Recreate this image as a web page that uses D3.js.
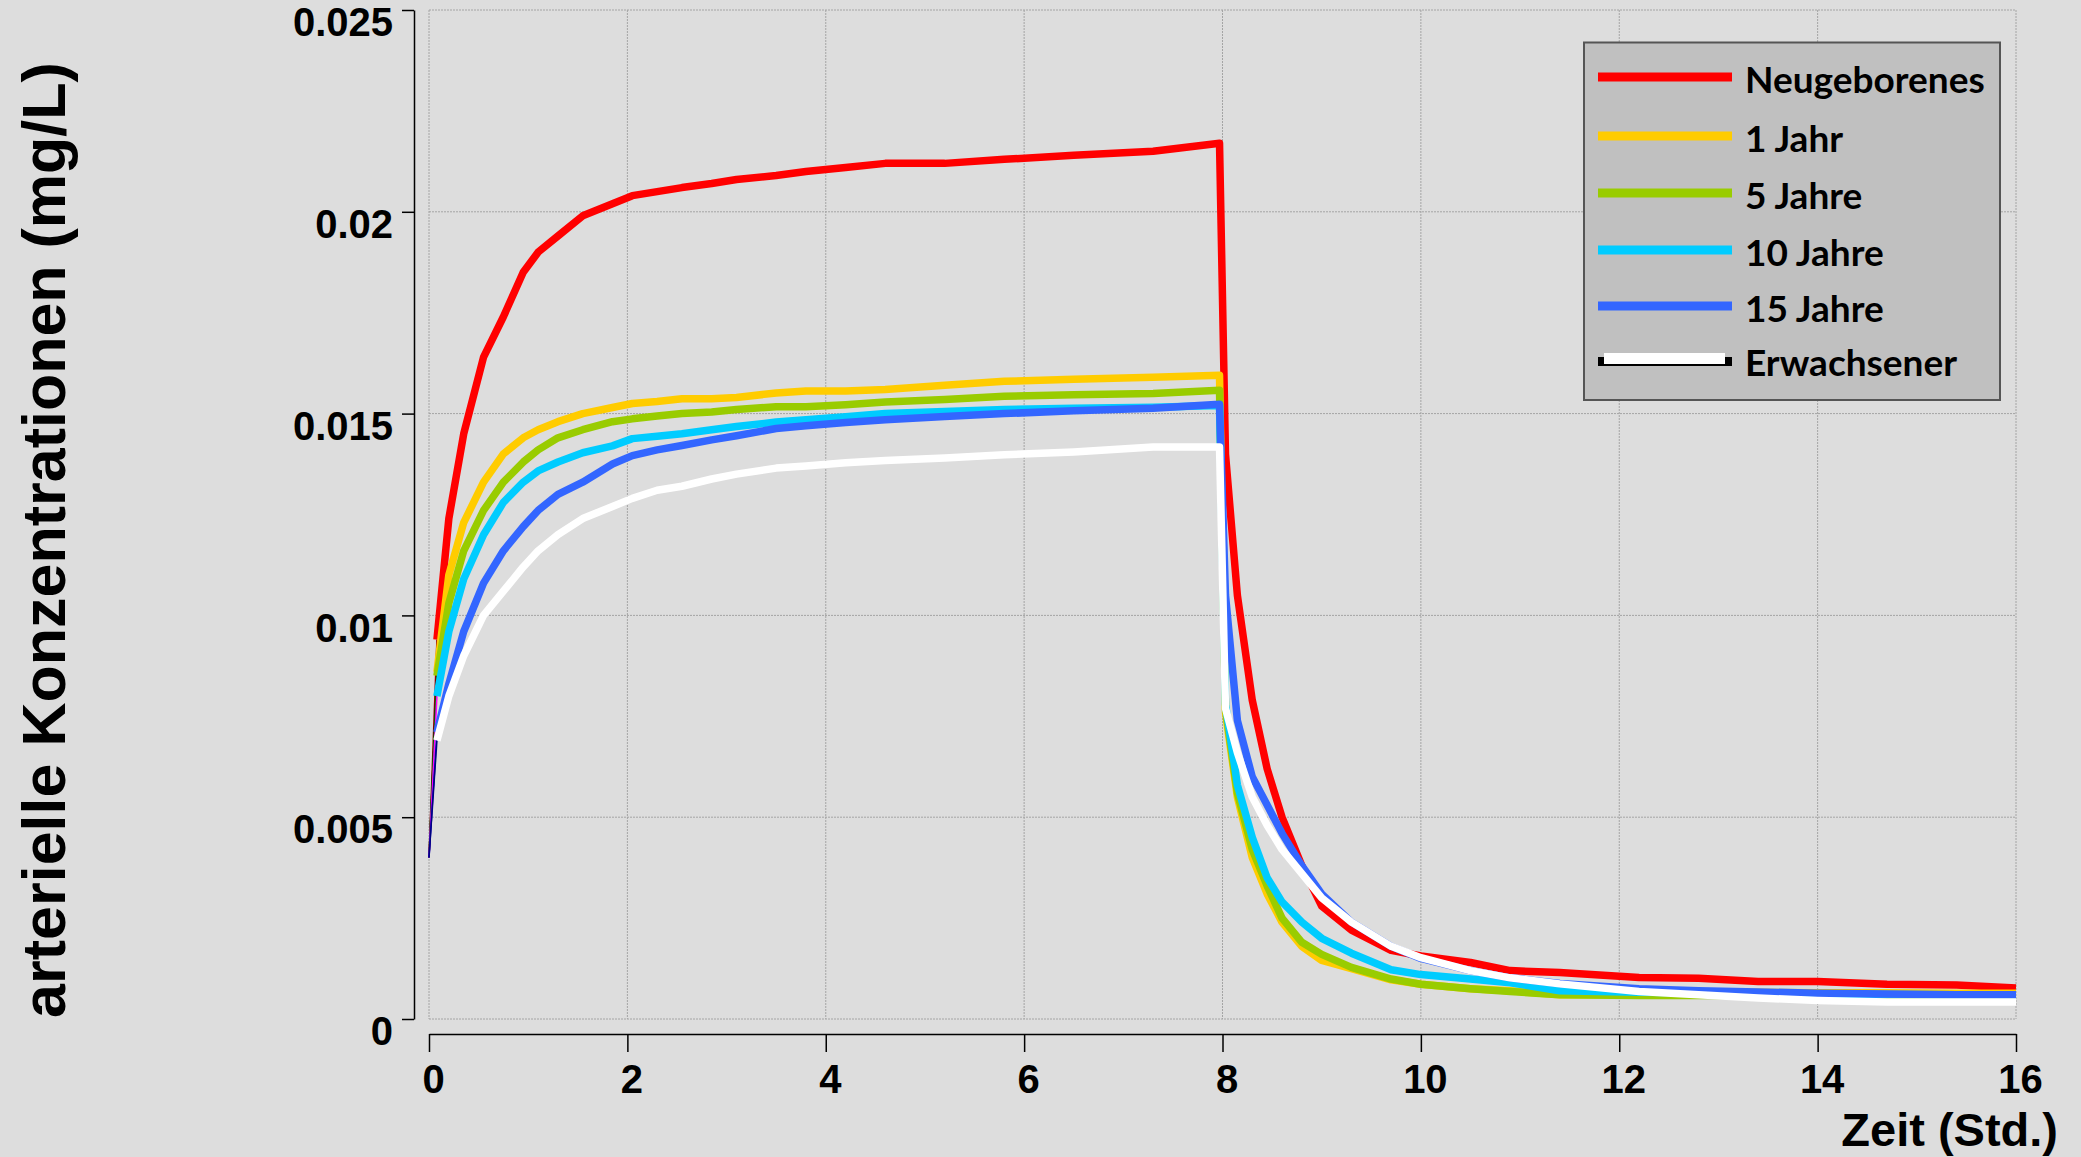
<!DOCTYPE html>
<html>
<head>
<meta charset="utf-8">
<title>arterielle Konzentrationen</title>
<style>
body { margin: 0; background: #dddddd; }
svg { display: block; }
.axis text { font-family: "Liberation Sans", Arial, sans-serif; font-weight: bold; font-size: 40px; fill: #000; }
.axis path, .axis line { stroke: #000; stroke-width: 1.5; }
.grid line { stroke: #a4a4a4; stroke-width: 1; stroke-dasharray: 2,1; }
.legend text { font-family: "Comic Sans MS", "Lato", sans-serif; font-weight: bold; font-size: 37px; fill: #000; }
</style>
</head>
<body>
<svg width="2081" height="1157"></svg>
<script src="https://d3js.org/d3.v7.min.js"></script>
<script>
// Zeitpunkte (Std.)
var times = [0, 0.08, 0.2, 0.35, 0.55, 0.75, 0.95, 1.1, 1.3, 1.55,
  1.85, 2.05, 2.3, 2.55, 2.85, 3.1, 3.5, 3.8, 4.2, 4.6,
  5.2, 5.8, 6.5, 7.3, 7.97, 8.03, 8.15, 8.3, 8.45, 8.6,
  8.8, 9.0, 9.3, 9.7, 10.0, 10.5, 10.9, 11.4, 12.2, 12.8,
  13.4, 14.0, 14.7, 15.4, 16];

var neugeborenes = [0.004, 0.0094, 0.0124, 0.0145, 0.0164, 0.0174, 0.0185, 0.0190, 0.0194, 0.0199,
  0.0202, 0.0204, 0.0205, 0.0206, 0.0207, 0.0208, 0.0209, 0.0210, 0.0211, 0.0212,
  0.0212, 0.0213, 0.0214, 0.0215, 0.0217, 0.0140, 0.0105, 0.0079, 0.0062, 0.0050,
  0.0038, 0.0028, 0.0022, 0.0017, 0.00156, 0.0014, 0.0012, 0.00115, 0.00103, 0.00101,
  0.00093, 0.00093, 0.00086, 0.00084, 0.00077];
var jahr1 = [0.004, 0.0086, 0.0110, 0.0123, 0.0133, 0.0140, 0.0144, 0.0146, 0.0148, 0.0150,
  0.01515, 0.01525, 0.0153, 0.01537, 0.01537, 0.0154, 0.01551, 0.01556, 0.01556, 0.0156,
  0.0157, 0.0158, 0.01585, 0.0159, 0.01595, 0.0076, 0.0055, 0.0040, 0.0031, 0.0024,
  0.0018, 0.00145, 0.00125, 0.00097, 0.00086, 0.00075, 0.0007, 0.0006, 0.0006, 0.00066,
  0.00066, 0.00065, 0.00065, 0.00064, 0.00064];
var jahre5 = [0.004, 0.0085, 0.0103, 0.0116, 0.0126, 0.0133, 0.0138, 0.0141, 0.0144, 0.0146,
  0.0148, 0.01487, 0.01494, 0.0150, 0.01504, 0.0151, 0.01517, 0.01517, 0.01522, 0.01529,
  0.01535, 0.01543, 0.01547, 0.0155, 0.01558, 0.0077, 0.0056, 0.0042, 0.0033, 0.0025,
  0.0019, 0.0016, 0.00128, 0.00099, 0.00086, 0.00075, 0.00068, 0.0006, 0.00058, 0.00058,
  0.00058, 0.00058, 0.00058, 0.00058, 0.00058];
var jahre10 = [0.004, 0.0080, 0.0096, 0.0109, 0.0120, 0.0128, 0.0133, 0.01358, 0.0138, 0.01403,
  0.0142, 0.01438, 0.01444, 0.0145, 0.0146, 0.01468, 0.01479, 0.01485, 0.01492, 0.0150,
  0.01505, 0.0151, 0.01513, 0.01516, 0.0152, 0.0078, 0.0058, 0.0045, 0.0035, 0.0029,
  0.0024, 0.0020, 0.00163, 0.00122, 0.0011, 0.00099, 0.0009, 0.0007, 0.00066, 0.00065,
  0.00064, 0.00062, 0.00061, 0.0006, 0.0006];
var jahre15 = [0.004, 0.0071, 0.0083, 0.0096, 0.0108, 0.0116, 0.0122, 0.0126, 0.0130, 0.0133,
  0.01375, 0.01396, 0.0141, 0.01421, 0.01435, 0.01445, 0.01463, 0.0147, 0.01478, 0.01485,
  0.01493, 0.0150, 0.01507, 0.01513, 0.01523, 0.0105, 0.0074, 0.0060, 0.0053, 0.0046,
  0.0038, 0.0031, 0.0024, 0.0018, 0.0015, 0.0012, 0.00102, 0.00088, 0.00075, 0.0007,
  0.00067, 0.00064, 0.00062, 0.0006, 0.0006];
var erwachsener = [0.004, 0.0069, 0.0080, 0.0090, 0.0100, 0.0106, 0.0112, 0.0116, 0.0120, 0.0124,
  0.0127, 0.0129, 0.0131, 0.0132, 0.01338, 0.0135, 0.01365, 0.0137, 0.01378, 0.01384,
  0.0139, 0.01398, 0.01405, 0.01417, 0.01417, 0.0077, 0.0066, 0.0055, 0.0048, 0.0042,
  0.0036, 0.0030, 0.0024, 0.0018, 0.00152, 0.0012, 0.00102, 0.00087, 0.00068, 0.0006,
  0.00052, 0.00046, 0.00042, 0.00042, 0.00042];

var names = ["Neugeborenes", "1 Jahr", "5 Jahre", "10 Jahre", "15 Jahre", "Erwachsener"];
var seriesValues = [neugeborenes, jahr1, jahre5, jahre10, jahre15, erwachsener];
var colors = ["#ff0000", "#ffcc00", "#99cc00", "#00ccff", "#3366ff", "#ffffff"];
var thinColors = ["#990000", "#000000", "#008000", "#ff00ff", "#0000cc", "#000080"]; // first segment
var xTicks = [0, 2, 4, 6, 8, 10, 12, 14, 16];
var yTicks = [0, 0.005, 0.01, 0.015, 0.02, 0.025];

var svg = d3.select("svg");

var x = d3.scaleLinear().domain([0, 16]).range([429, 2016]);
var y = d3.scaleLinear().domain([0, 0.025]).range([1019, 10]);

// grid
var grid = svg.append("g").attr("class", "grid");
grid.selectAll(".v").data(xTicks).enter().append("line")
    .attr("x1", function(d) { return x(d); }).attr("x2", function(d) { return x(d); })
    .attr("y1", y(0.025)).attr("y2", y(0));
grid.selectAll(".h").data(yTicks).enter().append("line")
    .attr("x1", x(0)).attr("x2", x(16))
    .attr("y1", function(d) { return y(d); }).attr("y2", function(d) { return y(d); });

// axes (offset from plot area)
var yAxis = svg.append("g").attr("class", "axis")
    .attr("transform", "translate(414,0)")
    .call(d3.axisLeft(y).tickValues(yTicks).tickSize(12).tickSizeOuter(0).tickPadding(9)
      .tickFormat(function(d) { return d === 0 ? "0" : String(+d.toFixed(3)); }));
yAxis.selectAll("text").attr("dy", "0.64em");

var xAxis = svg.append("g").attr("class", "axis")
    .attr("transform", "translate(0,1034)")
    .call(d3.axisBottom(x).tickValues(xTicks).tickSize(18).tickSizeOuter(0)
      .tickFormat(d3.format("d")));
xAxis.selectAll("text").attr("y", 59).attr("dy", 0).attr("x", 4);

// titles
svg.append("text")
    .attr("transform", "translate(65,540) rotate(-90)")
    .attr("text-anchor", "middle")
    .style("font-family", "Liberation Sans, Arial, sans-serif")
    .style("font-weight", "bold")
    .style("font-size", "61px")
    .text("arterielle Konzentrationen (mg/L)");
svg.append("text")
    .attr("x", 2058).attr("y", 1146)
    .attr("text-anchor", "end")
    .style("font-family", "Liberation Sans, Arial, sans-serif")
    .style("font-weight", "bold")
    .style("font-size", "47px")
    .text("Zeit (Std.)");

// curves
var line = d3.line()
    .x(function(d) { return x(d[0]); })
    .y(function(d) { return y(d[1]); });

seriesValues.forEach(function(vals, i) {
  var pts = times.map(function(t, j) { return [t, vals[j]]; });
  svg.append("path")
    .attr("d", line(pts.slice(0, 2)))
    .attr("fill", "none")
    .attr("stroke", thinColors[i])
    .attr("stroke-width", 1.5);
  svg.append("path")
    .attr("d", line(pts.slice(1)))
    .attr("fill", "none")
    .attr("stroke", colors[i])
    .attr("stroke-width", 7.5)
    .attr("stroke-linejoin", "round");
});

// legend
var legend = svg.append("g").attr("class", "legend");
legend.append("rect")
    .attr("x", 1584).attr("y", 42.5).attr("width", 416).attr("height", 357.5)
    .attr("fill", "#c0c0c0").attr("stroke", "#555").attr("stroke-width", 2);
var rowY = [77, 136, 193, 250, 306, 360];
names.forEach(function(n, i) {
  if (i === 5) {
    legend.append("rect").attr("x", 1598).attr("y", 357).attr("width", 134).attr("height", 9).attr("fill", "#000");
    legend.append("rect").attr("x", 1604).attr("y", 353).attr("width", 121).attr("height", 11).attr("fill", "#fff");
  } else {
    legend.append("line")
      .attr("x1", 1598).attr("x2", 1732)
      .attr("y1", rowY[i]).attr("y2", rowY[i])
      .attr("stroke", colors[i]).attr("stroke-width", 9);
  }
  legend.append("text")
    .attr("x", 1745).attr("y", rowY[i] + 16)
    .text(n);
});
</script>
</body>
</html>
